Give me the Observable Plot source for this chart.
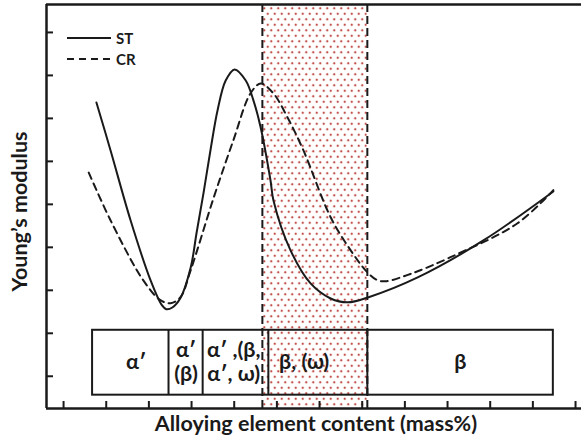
<!DOCTYPE html>
<html><head><meta charset="utf-8">
<script src="https://cdn.jsdelivr.net/npm/d3@7"></script>
<script src="https://cdn.jsdelivr.net/npm/@observablehq/plot@0.6"></script>
<style>
body{margin:0;background:#fff;font-family:Lato,sans-serif}
#wrap{position:relative;width:581px;height:443px}
#legend{position:absolute;left:67px;top:27px;font:bold 15px Lato,sans-serif;color:#1a1a1a}
#legend div{display:flex;align-items:center;height:21px}
#legend svg{margin-right:5px}
</style>
</head><body>
<div id="wrap"><div id="chart"></div>
<div id="legend">
  <div><svg width="44" height="4"><line x1="0" x2="44" y1="2" y2="2" stroke="#1a1a1a" stroke-width="2"/></svg>ST</div>
  <div><svg width="44" height="4"><line x1="0" x2="44" y1="2" y2="2" stroke="#1a1a1a" stroke-width="2" stroke-dasharray="7,5"/></svg>CR</div>
</div></div>
<script>
// tick positions (arbitrary units)
const xTicks = [1,2,3,4,5,6,7,8,9,10,11,12,13];
const yTicks = [1,2,3,4,5,6,7,8,9];
const xDomain = [0.6, 13.14];
const yDomain = [0.25, 9.65];

// ST curve
const stX = [1.77,2.10,2.57,3.04,3.30,3.41,3.55,3.74,3.98,4.12,4.28,4.45,4.61,4.80,5.01,5.27,5.45,5.62,5.85,5.92,6.32,6.79,7.26,7.66,8.15,9.30,10.84,12.48];
const stY = [7.37,6.26,4.63,3.23,2.66,2.56,2.60,2.82,3.53,4.35,5.26,6.30,7.19,7.88,8.14,7.88,7.42,6.79,5.56,5.09,3.93,3.16,2.81,2.72,2.84,3.30,4.16,5.30];
// CR curve
const crX = [1.59,2.10,2.87,3.27,3.51,3.74,3.98,4.52,4.98,5.38,5.62,5.92,6.25,6.62,7.26,7.73,8.12,8.35,8.55,9.13,10.07,11.64,12.48];
const crY = [5.74,4.63,3.23,2.77,2.70,2.84,3.47,5.16,6.49,7.58,7.81,7.58,7.02,6.26,4.70,3.93,3.42,3.24,3.21,3.38,3.77,4.56,5.33];

// shaded transition region
const regionX = [5.66, 8.12];
// phase boxes
const boxEdges = [1.68, 3.46, 4.26, 5.80, 8.12, 12.48];
const boxY = [0.56, 2.07];
const boxLabels = ["α′", "α′\n(β)", "α′ ,(β,\nα′, ω)", "β, (ω)", "β"];
const labelX = [2.70, 3.87, 4.99, 6.64, 10.30];

const st = stX.map((x,i)=>({x, y: stY[i]}));
const cr = crX.map((x,i)=>({x, y: crY[i]}));
const boxes = boxEdges.slice(0,-1).map((e,i)=>({x1:e, x2:boxEdges[i+1], label: boxLabels[i], lx: labelX[i]}));
const ink = "#1a1a1a";

const chart = Plot.plot({
  width: 581, height: 443,
  marginLeft: 46, marginRight: 0, marginTop: 4, marginBottom: 35,
  x: {domain: xDomain},
  y: {domain: yDomain},
  style: {fontFamily: "Lato, sans-serif", color: ink, background: "#fff"},
  marks: [
    Plot.rect([regionX], {x1: d=>d[0], x2: d=>d[1], y1: yDomain[0], y2: yDomain[1], fill: "url(#dots)"}),
    Plot.rect([boxY], {x1: boxEdges[0], x2: boxEdges[boxEdges.length-1], y1: d=>d[0], y2: d=>d[1], fill: "none", stroke: ink, strokeWidth: 2}),
    Plot.ruleX(boxEdges.slice(1,-1), {y1: boxY[0], y2: boxY[1], stroke: ink, strokeWidth: 2}),
    Plot.ruleX(regionX, {y1: yDomain[0], y2: yDomain[1], stroke: ink, strokeWidth: 2, strokeDasharray: "8,4"}),
    Plot.text(boxes, {x: "lx", y: (boxY[0]+boxY[1])/2, dy: -1, text: "label", fontSize: 21.5, fontWeight: "bold", fill: ink, lineHeight: 1.12}),
    Plot.line(st, {x: "x", y: "y", curve: "catmull-rom", stroke: ink, strokeWidth: 2}),
    Plot.line(cr, {x: "x", y: "y", curve: "catmull-rom", stroke: ink, strokeWidth: 2, strokeDasharray: "7,5"}),
    Plot.ruleX([xDomain[0]], {stroke: ink, strokeWidth: 2.5}),
    Plot.ruleY([yDomain[0], yDomain[1]], {stroke: ink, strokeWidth: 2.5}),
    Plot.axisX({ticks: xTicks, tickSize: -7, tickFormat: () => "", stroke: ink, strokeWidth: 2, label: null}),
    Plot.axisY({ticks: yTicks, tickSize: -7, tickFormat: () => "", stroke: ink, strokeWidth: 2, label: null}),
    Plot.text(["Alloying element content (mass%)"], {frameAnchor: "bottom", dy: 22, dx: 2, fontSize: 21.5, fontWeight: "bold", fill: ink}),
    Plot.text(["Young’s modulus"], {frameAnchor: "left", textAnchor: "middle", rotate: -90, dx: -26, dy: 5, fontSize: 21.5, fontWeight: "bold", fill: ink})
  ]
});
document.getElementById("chart").append(chart);
const svg = d3.select(chart.tagName.toLowerCase()==="svg" ? chart : chart.querySelector("svg"));
const defs = svg.insert("defs", ":first-child");
const pat = defs.append("pattern").attr("id","dots").attr("patternUnits","userSpaceOnUse").attr("width",7).attr("height",11);
pat.append("rect").attr("width",7).attr("height",11).attr("fill","#fff");
[[1.75,2.75],[5.25,8.25]].forEach(([cx,cy])=>{
  pat.append("circle").attr("cx",cx).attr("cy",cy).attr("r",1.6).attr("fill","#f0d0cb");
  pat.append("circle").attr("cx",cx).attr("cy",cy).attr("r",0.95).attr("fill","#c0504d");
});
</script>
</body></html>
